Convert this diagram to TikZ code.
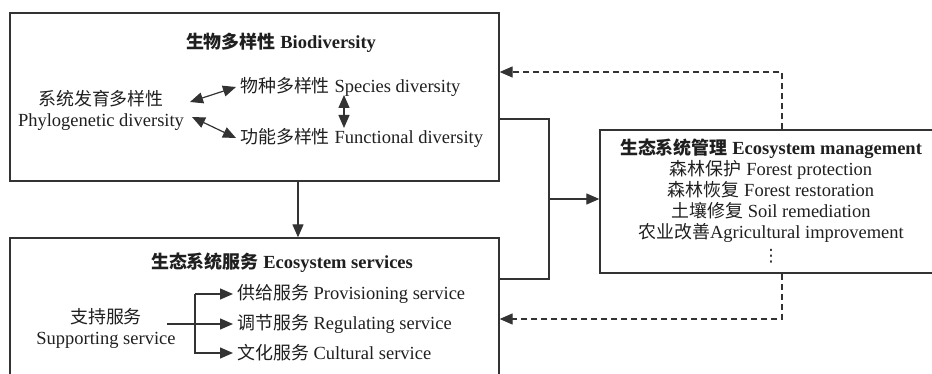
\documentclass[tikz,border=0pt]{standalone}
\usepackage{fontspec}
\setmainfont{Liberation Serif}
\newfontfamily\cjk{Noto Sans CJK SC}[Scale=0.97]
\newfontfamily\djv{DejaVu Sans}
\usetikzlibrary{arrows.meta,calc}
\newcommand\zh[1]{{\cjk #1}}
\begin{document}
\begin{tikzpicture}[x=1pt,y=-1pt,
  font=\fontsize{18.5}{21}\selectfont,
  every node/.style={text=black!88},
  box/.style={draw=black!80, line width=1.3pt, inner sep=0},
  lbl/.style={inner xsep=4pt, inner ysep=0, anchor=west},
  ctr/.style={inner sep=0, align=center},
  conn/.style={draw=black!80, line width=1.2pt},
  tip/.style={-{Triangle[length=13pt,width=11pt]}},
  dbl/.style={{Triangle[length=13pt,width=11pt]}-{Triangle[length=13pt,width=11pt]}},
  dashline/.style={dash pattern=on 6pt off 4pt}]
\useasboundingbox (0,0) rectangle (932,374);
\clip (0,0) rectangle (932,374);
% boxes
\node[box, minimum width=489pt, minimum height=168pt] (tb) at (254.5,97) {};
\node[box, minimum width=489pt, minimum height=190pt] (bb) at (254.5,333) {};
\node[box, minimum width=370pt, minimum height=143pt] (rb) at (785,201.5) {};
% biodiversity
\node[ctr] (tbt) at (281,43) {\bfseries\zh{生物多样性} Biodiversity};
\node[ctr] (phy) at (101,110) {\zh{系统发育多样性}\\Phylogenetic diversity};
\node[lbl] (sp) at (236,87) {\zh{物种多样性} Species diversity};
\node[lbl] (fn) at (236,138) {\zh{功能多样性} Functional diversity};
\coordinate (a1) at (190,102);
\coordinate (a2) at (192,117);
\draw[conn,dbl] (a1) -- (sp.west);
\draw[conn,dbl] (a2) -- (fn.west);
\coordinate (v1) at (344,95);
\coordinate (v2) at (344,128);
\draw[conn,dbl] (v1) -- (v2);
% ecosystem services
\node[ctr] (bbt) at (282,263) {\bfseries\zh{生态系统服务} Ecosystem services};
\node[ctr] (sup) at (106,328) {\zh{支持服务}\\Supporting service};
\node[lbl] (pv) at (233,294) {\zh{供给服务} Provisioning service};
\node[lbl] (rg) at (233,324) {\zh{调节服务} Regulating service};
\node[lbl] (cu) at (233,353) {\zh{文化服务} Cultural service};
\coordinate (s0) at (167,324);
\coordinate (bx) at (195,294);
\coordinate (by) at (195,353);
\draw[conn,tip] (s0) -- (rg.west);
\draw[conn,tip] (bx) -- (pv.west);
\draw[conn,tip] (bx) -- (by) -- (cu.west);
% management
\node[ctr, anchor=north] (rbt) at (771,139) {{\bfseries\zh{生态系统管理} Ecosystem management}\\
\zh{森林保护} Forest protection\\
\zh{森林恢复} Forest restoration\\
\zh{土壤修复} Soil remediation\\
\zh{农业改善}Agricultural improvement};
\node[ctr, font=\djv\fontsize{17}{17}\selectfont] (dots) at (771,256) {⋮};
% connectors
\draw[conn,tip] ($(tb.south)+(43.5,0)$) -- ($(bb.north)+(43.5,0)$);
\coordinate (j1) at (549,119);
\coordinate (j2) at (549,279);
\coordinate (j) at (549,199);
\draw[conn] (tb.east |- j1) -- (j1) -- (j2) -- (bb.east |- j2);
\draw[conn,tip] (j) -- (rb.west |- j);
\coordinate (d1) at (782,72);
\coordinate (d2) at (782,319);
\draw[conn,dashline,tip] (rb.north -| d1) -- (d1) -- (tb.east |- d1);
\draw[conn,dashline,tip] (rb.south -| d2) -- (d2) -- (bb.east |- d2);
\end{tikzpicture}
\end{document}
